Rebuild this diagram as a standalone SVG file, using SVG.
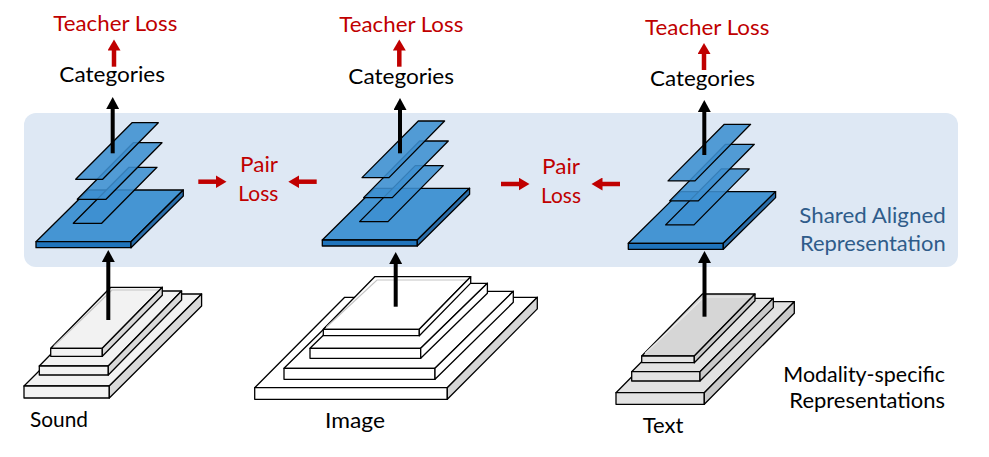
<svg xmlns="http://www.w3.org/2000/svg" width="989" height="457" viewBox="0 0 989 457">
<style>
text{font-family:Lato,"Liberation Sans",Arial,sans-serif;font-size:21px}
.red{fill:#c00000}
.blk{fill:#000}
.shared{fill:#2f5c8a}
.ol{stroke:#000;stroke-width:1.3;stroke-linejoin:round}
.btop{fill:#4595d3}
.bfront{fill:#1f74bc}
.bside{fill:#2a6eab}
.bplate{fill:#3e8fd0;fill-opacity:0.88}
.sg1{fill:#f2f2f2}.sg2{fill:#d9d9d9}
.ig1{fill:#ffffff}.ig2{fill:#d6d6d6}
.tg1{fill:#e2e2e2}.tg2{fill:#c9c9c9}
.glass{fill:none;stroke:#c4c4c4;stroke-width:1.2}
.ka{stroke:#000;stroke-width:4;fill:none}
.ra{stroke:#c00000;stroke-width:4.5;fill:none}
</style>
<defs>
<marker id="bh" markerUnits="userSpaceOnUse" markerWidth="13" markerHeight="13" refX="1" refY="6.5" orient="auto">
<path d="M0,0 L12,6.5 L0,13 z" fill="#000"/>
</marker>
<marker id="rh" markerUnits="userSpaceOnUse" markerWidth="13" markerHeight="13" refX="1" refY="6.5" orient="auto">
<path d="M0,0 L11,6.5 L0,13 z" fill="#c00000"/>
</marker>
<g id="bluestack">
<polygon class="btop ol" points="36,241.7 131,241.7 183.3,190 88.3,190"/>
<rect class="bfront ol" x="36" y="241.7" width="95" height="6"/>
<polygon class="bside ol" points="131,241.7 183.3,190 183.3,196 131,247.7"/>
<polygon class="bplate ol" points="73.3,223.3 101.7,223.3 157,167.3 129,167.3"/>
<polygon class="bplate ol" points="77.3,199.3 106,199.3 162,142.7 133.3,142.7"/>
<polygon class="bplate ol" points="75.7,179.3 102.7,179.3 158.3,122.7 132,122.7"/>
</g>
</defs>

<rect id="band" x="24" y="113" width="934" height="154" rx="12" fill="#dee8f4"/>

<g id="sound-modality">
<polygon class="sg1 ol" points="24,386 109.3,386 201.6,294 116.3,294"/>
<rect class="sg1 ol" x="24" y="386" width="85.3" height="12"/>
<polygon class="sg2 ol" points="109.3,386 201.6,294 201.6,306 109.3,398"/>
<polygon class="sg1 ol" points="39.3,366 108.3,366 181.6,291 112.6,291"/>
<rect class="sg1 ol" x="39.3" y="366" width="69" height="9"/>
<polygon class="sg2 ol" points="108.3,366 181.6,291 181.6,300 108.3,375"/>
<polygon class="sg1 ol" points="50.7,348.3 102.3,348.3 162.3,287.3 110.7,287.3"/>
<polyline class="glass" points="54,346 112,290 160,290"/>
<rect class="sg1 ol" x="50.7" y="348.3" width="51.6" height="8"/>
<polygon class="sg2 ol" points="102.3,348.3 162.3,287.3 162.3,295.3 102.3,356.3"/>
<text x="30" y="427" class="blk" textLength="58" lengthAdjust="spacingAndGlyphs">Sound</text>
</g>

<g id="image-modality">
<polygon class="ig1 ol" points="254.7,387.7 447.3,387.7 537.3,297.3 344.7,297.3"/>
<rect class="ig1 ol" x="254.7" y="387.7" width="192.6" height="11.6"/>
<polygon class="ig2 ol" points="447.3,387.7 537.3,297.3 537.3,308.9 447.3,399.3"/>
<polygon class="ig1 ol" points="284,368.3 435,368.3 513.3,291.3 362.3,291.3"/>
<rect class="ig1 ol" x="284" y="368.3" width="151" height="11"/>
<polygon class="ig1 ol" points="435,368.3 513.3,291.3 513.3,302.3 435,379.3"/>
<polygon class="ig1 ol" points="310,348.3 420.7,348.3 487.4,283.3 376.7,283.3"/>
<rect class="ig1 ol" x="310" y="348.3" width="110.7" height="10"/>
<polygon class="ig1 ol" points="420.7,348.3 487.4,283.3 487.4,293.3 420.7,358.3"/>
<polygon class="ig1 ol" points="323.3,329.3 419.3,329.3 470.7,276.7 374.7,276.7"/>
<polyline class="glass" points="326.5,327 377,280 468,280"/>
<rect class="ig1 ol" x="323.3" y="329.3" width="96" height="6.4"/>
<polygon class="ig1 ol" points="419.3,329.3 470.7,276.7 470.7,283.1 419.3,335.7"/>
<text x="325" y="428" class="blk" textLength="60" lengthAdjust="spacingAndGlyphs">Image</text>
</g>

<g id="text-modality">
<polygon class="tg1 ol" points="616,392.7 704.3,392.7 794.3,301.7 706,301.7"/>
<rect class="tg1 ol" x="616" y="392.7" width="88.3" height="11.6"/>
<polygon class="tg2 ol" points="704.3,392.7 794.3,301.7 794.3,313.3 704.3,404.3"/>
<polygon class="tg1 ol" points="631.7,371.7 700,371.7 773.3,298.3 705,298.3"/>
<rect class="tg1 ol" x="631.7" y="371.7" width="68.3" height="9.3"/>
<polygon class="tg2 ol" points="700,371.7 773.3,298.3 773.3,307.6 700,381"/>
<polygon class="tg1 ol" points="641.7,356 694.3,356 755,294 702.4,294" style="fill:#d6d6d6"/>
<polyline class="glass" points="645,353.5 704,297 752,297" style="stroke:#ececec"/>
<rect class="tg1 ol" x="641.7" y="356" width="52.6" height="6.7"/>
<polygon class="tg2 ol" points="694.3,356 755,294 755,300.7 694.3,362.7"/>
<text x="642.7" y="433" class="blk" textLength="40.7" lengthAdjust="spacingAndGlyphs">Text</text>
</g>

<g id="sound-shared"><use href="#bluestack"/></g>
<g id="image-shared"><use href="#bluestack" transform="translate(286.3,-1.7)"/></g>
<g id="text-shared"><use href="#bluestack" transform="translate(592.3,1.6)"/></g>

<g id="connectors">
<line class="ka" x1="108.3" y1="320" x2="108.3" y2="261" marker-end="url(#bh)"/>
<line class="ka" x1="395.7" y1="306.7" x2="395.7" y2="263" marker-end="url(#bh)"/>
<line class="ka" x1="704.5" y1="316.7" x2="704.5" y2="262" marker-end="url(#bh)"/>
<line class="ka" x1="112.7" y1="153.3" x2="112.7" y2="108" marker-end="url(#bh)"/>
<line class="ka" x1="400" y1="153.3" x2="400" y2="109" marker-end="url(#bh)"/>
<line class="ka" x1="704.3" y1="155" x2="704.3" y2="111" marker-end="url(#bh)"/>
<line class="ra" x1="114" y1="66.7" x2="114" y2="49.5" marker-end="url(#rh)"/>
<line class="ra" x1="399.3" y1="66.7" x2="399.3" y2="49.5" marker-end="url(#rh)"/>
<line class="ra" x1="704" y1="70" x2="704" y2="53" marker-end="url(#rh)"/>
<line class="ra" x1="198.3" y1="181.7" x2="216.5" y2="181.7" marker-end="url(#rh)"/>
<line class="ra" x1="316.7" y1="181.7" x2="298.3" y2="181.7" marker-end="url(#rh)"/>
<line class="ra" x1="501" y1="184" x2="519.5" y2="184" marker-end="url(#rh)"/>
<line class="ra" x1="620" y1="184" x2="601.5" y2="184" marker-end="url(#rh)"/>
</g>

<g id="labels">
<text x="115.3" y="31" class="red" text-anchor="middle" textLength="124" lengthAdjust="spacingAndGlyphs">Teacher Loss</text>
<text x="401.3" y="32.3" class="red" text-anchor="middle" textLength="124" lengthAdjust="spacingAndGlyphs">Teacher Loss</text>
<text x="707.2" y="35" class="red" text-anchor="middle" textLength="124.3" lengthAdjust="spacingAndGlyphs">Teacher Loss</text>
<text x="112.2" y="82.3" class="blk" text-anchor="middle" textLength="105.7" lengthAdjust="spacingAndGlyphs">Categories</text>
<text x="401.2" y="84.3" class="blk" text-anchor="middle" textLength="105.7" lengthAdjust="spacingAndGlyphs">Categories</text>
<text x="702.5" y="86" class="blk" text-anchor="middle" textLength="105" lengthAdjust="spacingAndGlyphs">Categories</text>
<text x="259" y="171.7" class="red" text-anchor="middle" textLength="38" lengthAdjust="spacingAndGlyphs">Pair</text>
<text x="258.3" y="201" class="red" text-anchor="middle" textLength="40" lengthAdjust="spacingAndGlyphs">Loss</text>
<text x="561" y="174" class="red" text-anchor="middle" textLength="38" lengthAdjust="spacingAndGlyphs">Pair</text>
<text x="561" y="203" class="red" text-anchor="middle" textLength="40" lengthAdjust="spacingAndGlyphs">Loss</text>
<text x="872.5" y="223.3" class="shared" text-anchor="middle" textLength="146.4" lengthAdjust="spacingAndGlyphs">Shared Aligned</text>
<text x="872.8" y="251" class="shared" text-anchor="middle" textLength="145.7" lengthAdjust="spacingAndGlyphs">Representation</text>
<text x="864.2" y="381.7" class="blk" text-anchor="middle" textLength="161.7" lengthAdjust="spacingAndGlyphs">Modality-specific</text>
<text x="867.2" y="408.3" class="blk" text-anchor="middle" textLength="155.7" lengthAdjust="spacingAndGlyphs">Representations</text>
</g>
</svg>
